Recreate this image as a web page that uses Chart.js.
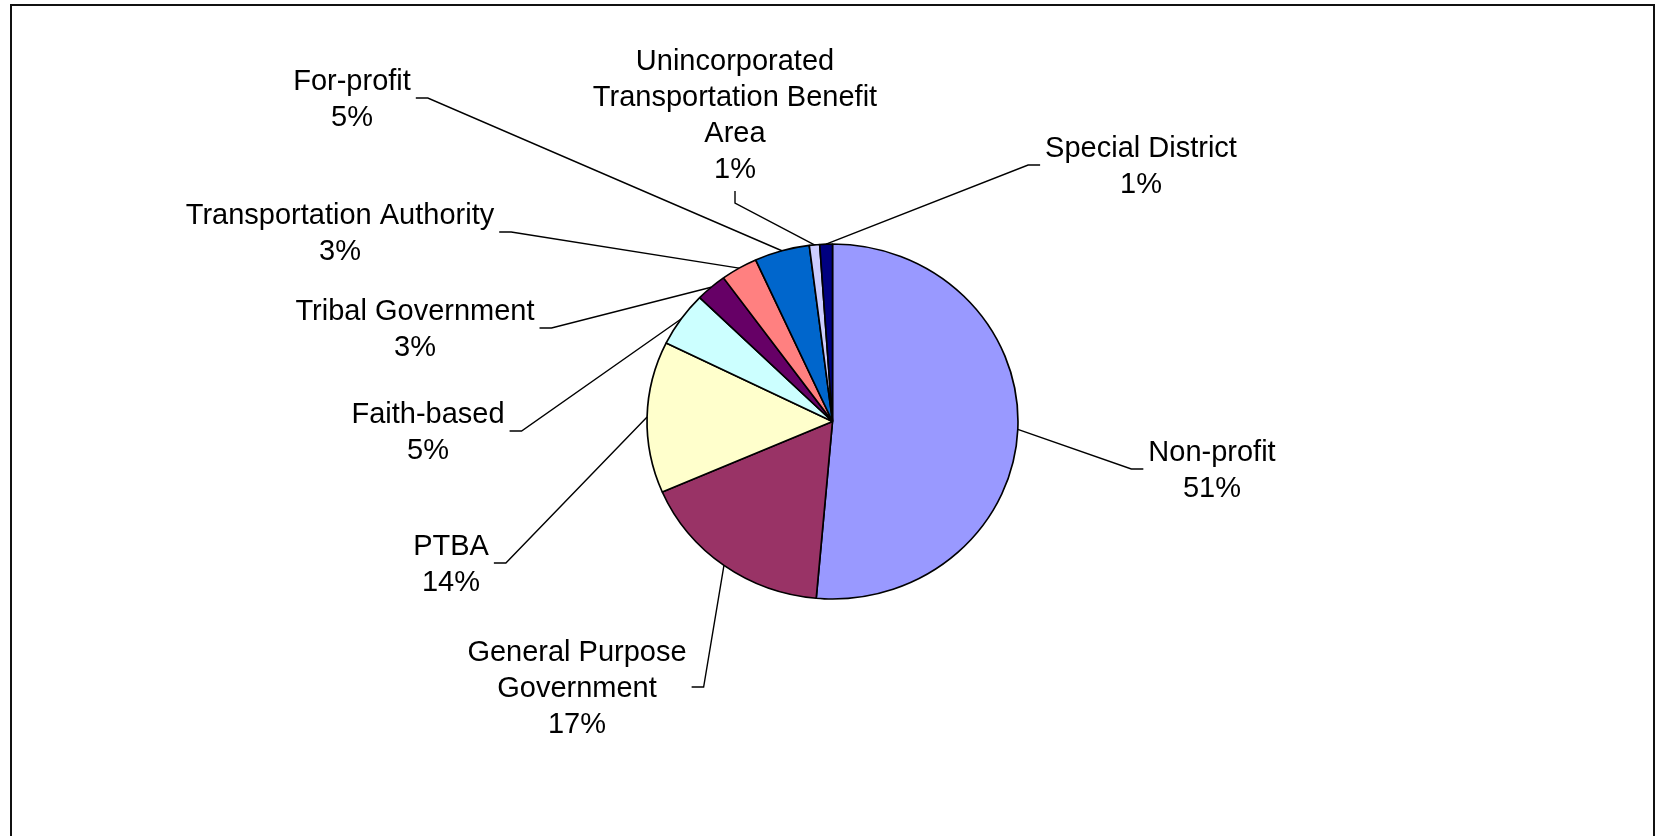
<!DOCTYPE html>
<html>
<head>
<meta charset="utf-8">
<script src="https://cdn.jsdelivr.net/npm/chart.js@4.4.1/dist/chart.umd.min.js"></script>
<style>
  html, body { margin: 0; padding: 0; background: #fff; overflow: hidden; }
  #frame { position: absolute; left: 10px; top: 4px; width: 1645px; height: 900px; border: 2px solid #111; box-sizing: border-box; }
  #wrap { position: absolute; left: 0; top: 0; width: 1660px; height: 836px; }
</style>
</head>
<body>
<div id="frame"></div>
<div id="wrap"><canvas id="myChart"></canvas></div>
<script>
var categories = ['Non-profit', 'General Purpose\nGovernment', 'PTBA', 'Faith-based', 'Tribal Government',
  'Transportation Authority', 'For-profit', 'Unincorporated\nTransportation Benefit\nArea', 'Special District'];
var shares = [51.4, 17.1, 13.8, 5.0, 2.7, 3.2, 4.8, 0.9, 1.1];
var sliceColors = ['#9999FF', '#993366', '#FFFFCC', '#CCFFFF', '#660066', '#FF8080', '#0066CC', '#CCCCFF', '#000080'];

// where each data label sits: centre x, first baseline, side the leader leaves from
var labelSpots = [
  [1212, 461, 'left'],
  [577, 661, 'right'],
  [451, 555, 'right'],
  [428, 423, 'right'],
  [415, 320, 'right'],
  [340, 224, 'right'],
  [352, 90, 'right'],
  [735, 70, 'bottom'],
  [1141, 157, 'left']
];

// the original pie is a little wider than tall
var stretchX = 1.045;
var lineGap = 36;

var squash = {
  id: 'squash',
  beforeDatasetsDraw: function(chart) {
    var c = chart.ctx;
    var el = chart.getDatasetMeta(0).data[0];
    c.save();
    c.translate(el.x, 0);
    c.scale(stretchX, 1);
    c.translate(-el.x, 0);
  },
  afterDatasetsDraw: function(chart) {
    chart.ctx.restore();
  }
};

var leaders = {
  id: 'leaders',
  afterDraw: function(chart) {
    var c = chart.ctx;
    var arcs = chart.getDatasetMeta(0).data;
    var total = shares.reduce(function(a, b) { return a + b; }, 0);
    c.save();
    c.font = '29px "Liberation Sans", Arial, sans-serif';
    c.fillStyle = '#000';
    c.strokeStyle = '#000';
    c.lineWidth = 1.4;
    c.textAlign = 'center';
    c.textBaseline = 'alphabetic';
    arcs.forEach(function(arc, i) {
      var lines = categories[i].split('\n').concat(Math.round(shares[i] / total * 100) + '%');
      var spot = labelSpots[i];
      var w = 0;
      lines.forEach(function(t, k) {
        w = Math.max(w, c.measureText(t).width);
        c.fillText(t, spot[0], spot[1] + k * lineGap);
      });
      var mid = (arc.startAngle + arc.endAngle) / 2;
      var ex = arc.x + arc.outerRadius * stretchX * Math.cos(mid);
      var ey = arc.y + arc.outerRadius * Math.sin(mid);
      var ty = spot[1] + (lines.length - 1) * lineGap / 2 - 10;
      var a, b;
      if (spot[2] === 'right') {
        a = [spot[0] + w / 2 + 5, ty];
        b = [spot[0] + w / 2 + 17, ty];
      } else if (spot[2] === 'left') {
        a = [spot[0] - w / 2 - 5, ty];
        b = [spot[0] - w / 2 - 17, ty];
      } else {
        var by = spot[1] + (lines.length - 1) * lineGap;
        a = [spot[0], by + 13];
        b = [spot[0], by + 25];
      }
      c.beginPath();
      c.moveTo(a[0], a[1]);
      c.lineTo(b[0], b[1]);
      c.lineTo(ex, ey);
      c.stroke();
    });
    c.restore();
  }
};

var ctx = document.getElementById('myChart').getContext('2d');
var myChart = new Chart(ctx, {
  type: 'pie',
  data: {
    labels: categories,
    datasets: [{
      data: shares,
      backgroundColor: sliceColors,
      borderColor: '#000',
      borderWidth: 1.6,
      radius: 177.5
    }]
  },
  options: {
    responsive: true,
    maintainAspectRatio: false,
    animation: false,
    events: [],
    layout: { padding: { left: 600, right: 595, top: 200, bottom: 193 } },
    plugins: {
      legend: { display: false },
      tooltip: { enabled: false }
    }
  },
  plugins: [squash, leaders]
});
</script>
</body>
</html>
